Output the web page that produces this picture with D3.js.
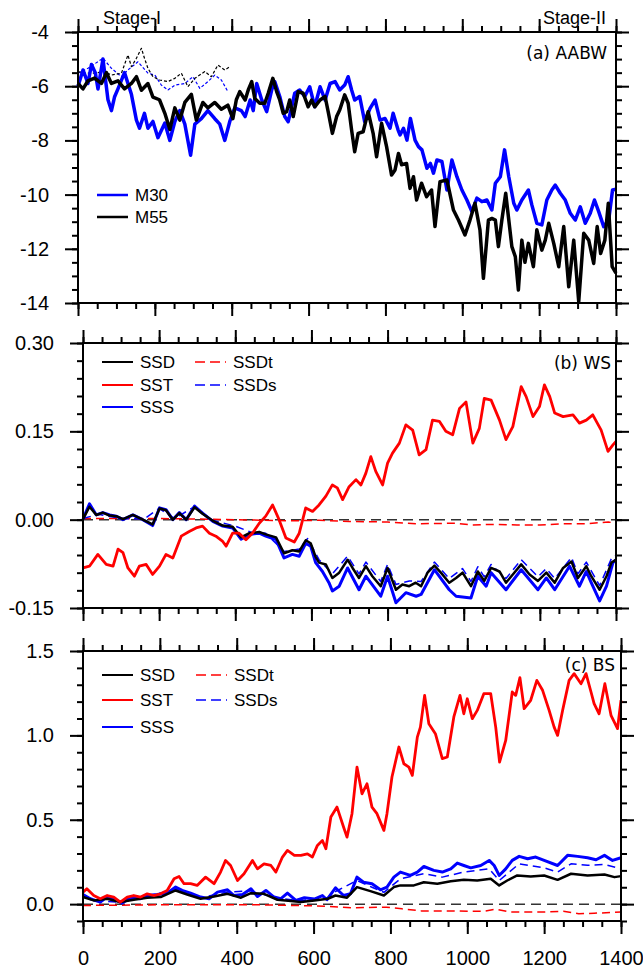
<!DOCTYPE html>
<html>
<head>
<meta charset="utf-8">
<script src="https://cdn.jsdelivr.net/npm/d3@7"></script>
<style>
body { margin: 0; background: #fff; }
</style>
</head>
<body>
<div id="chart"></div>
<script>
const width = 643
const height = 970

/* x axis: model years */
const xMajor = [0, 200, 400, 600, 800, 1000, 1200, 1400]
const xMinor = d3.range(0, 1401, 50)

/* y tick labels per panel */
const yMajorA = [-14, -12, -10, -8, -6, -4]
const yMajorB = [-0.15, 0, 0.15, 0.30]
const yMajorC = [0, 0.5, 1.0, 1.5]

/* (a) AABW, [year, value] */
const m30 = [[0,-6.0],[13,-5.4],[26,-5.9],[35,-5.2],[45,-5.5],[52,-6.1],[65,-5.0],[78,-6.5],[87,-6.9],[95,-6.4],[104,-6.1],[121,-5.5],[139,-6.3],[152,-7.25],[160,-7.55],[173,-7.0],[182,-7.55],[195,-7.3],[208,-7.9],[226,-7.36],[239,-8.0],[252,-7.3],[265,-6.9],[278,-7.4],[293,-8.55],[304,-7.4],[321,-7.2],[338,-6.9],[356,-7.2],[369,-7.4],[382,-8.0],[395,-7.3],[408,-6.8],[425,-6.9],[435,-7.12],[448,-6.51],[456,-6.9],[465,-5.9],[478,-6.5],[491,-6.94],[504,-6.14],[512,-5.83],[525,-6.38],[538,-7.12],[547,-7.31],[556,-6.76],[564,-6.26],[577,-6.14],[590,-6.38],[603,-6.02],[616,-6.76],[630,-6.02],[643,-6.51],[656,-5.9],[669,-5.83],[681,-6.14],[694,-5.96],[703,-5.65],[712,-6.14],[720,-6.51],[733,-6.38],[746,-7.31],[760,-6.82],[773,-6.51],[786,-7.25],[799,-7.19],[812,-7.55],[820,-7.0],[833,-7.62],[838,-7.8],[847,-7.55],[856,-7.99],[865,-7.19],[877,-7.99],[886,-8.23],[895,-8.35],[908,-9.03],[917,-8.85],[925,-9.21],[934,-8.72],[947,-8.78],[960,-9.83],[973,-8.72],[986,-9.34],[999,-9.83],[1012,-10.2],[1025,-10.63],[1038,-10.13],[1051,-10.26],[1064,-10.2],[1077,-10.57],[1086,-9.58],[1099,-9.34],[1110,-8.35],[1121,-9.34],[1134,-10.32],[1142,-10.57],[1155,-10.2],[1172,-9.83],[1181,-10.38],[1194,-11.06],[1207,-11.12],[1220,-10.2],[1233,-9.83],[1242,-9.65],[1255,-9.95],[1268,-10.2],[1281,-10.69],[1294,-10.94],[1307,-10.45],[1320,-11.06],[1333,-10.69],[1344,-10.2],[1355,-10.63],[1368,-11.18],[1381,-10.94],[1391,-9.83],[1400,-9.8]]
const m55 = [[0,-5.9],[13,-6.1],[26,-5.8],[43,-5.7],[61,-5.9],[74,-5.5],[87,-5.9],[104,-5.8],[121,-6.1],[139,-5.9],[152,-5.65],[165,-6.15],[182,-5.9],[195,-6.4],[212,-6.5],[226,-7.0],[239,-7.6],[252,-6.8],[265,-7.25],[278,-6.6],[295,-6.3],[308,-7.25],[325,-6.6],[338,-6.8],[356,-6.6],[373,-6.85],[390,-6.7],[403,-7.2],[412,-6.5],[421,-6.2],[435,-6.51],[443,-6.14],[452,-5.83],[460,-6.45],[473,-6.63],[486,-6.63],[495,-6.26],[507,-5.71],[517,-6.2],[525,-6.51],[534,-7.0],[543,-6.94],[551,-6.51],[560,-7.12],[573,-6.2],[586,-6.26],[599,-6.76],[608,-6.51],[616,-6.76],[630,-6.51],[643,-6.38],[651,-6.94],[662,-7.74],[673,-7.12],[681,-6.88],[694,-6.32],[703,-6.63],[712,-7.62],[720,-8.42],[729,-7.74],[742,-7.68],[755,-6.94],[768,-7.74],[777,-8.6],[790,-7.37],[803,-8.23],[816,-9.28],[825,-9.09],[834,-8.48],[842,-8.9],[855,-8.85],[864,-9.77],[873,-9.34],[881,-10.2],[894,-9.58],[907,-10.08],[920,-9.83],[929,-11.18],[942,-9.52],[960,-9.46],[977,-10.57],[990,-10.94],[1007,-11.49],[1020,-10.94],[1033,-10.32],[1046,-11.3],[1055,-13.09],[1068,-10.94],[1077,-10.88],[1086,-10.94],[1094,-11.92],[1103,-10.94],[1113,-9.95],[1121,-10.94],[1129,-11.92],[1138,-12.29],[1146,-13.52],[1155,-11.68],[1163,-12.5],[1172,-11.8],[1185,-12.66],[1194,-11.3],[1207,-12.05],[1216,-11.68],[1225,-11.06],[1238,-11.8],[1251,-12.66],[1264,-11.18],[1277,-13.4],[1290,-11.68],[1303,-13.95],[1316,-11.43],[1329,-11.68],[1342,-12.54],[1351,-11.18],[1360,-12.17],[1371,-11.68],[1380,-10.32],[1390,-12.66],[1400,-12.9]]
const m30Early = [[0,-5.52],[26,-5.34],[65,-4.97],[87,-5.34],[113,-5.65],[130,-5.4],[156,-5.1],[182,-5.52],[200,-5.59],[217,-5.96],[234,-6.14],[252,-5.96],[278,-5.9],[299,-5.65],[317,-6.08],[338,-5.83],[356,-5.59],[373,-5.77],[390,-6.2]]
const m55Early = [[0,-5.46],[17,-5.52],[43,-5.52],[69,-5.46],[87,-5.59],[113,-5.52],[130,-4.85],[139,-5.28],[152,-4.97],[165,-4.6],[173,-4.97],[182,-5.34],[195,-5.65],[212,-5.77],[234,-5.83],[252,-5.71],[269,-5.52],[286,-6.02],[304,-5.71],[330,-5.46],[347,-5.65],[364,-5.22],[382,-5.4],[395,-5.28]]

/* (b) WS */
const wsSSD = [[0,0.001],[17,0.022],[35,0.008],[52,0.012],[70,0.007],[87,0.006],[105,0.001],[131,0.008],[157,0.0],[183,-0.008],[201,0.019],[218,0.016],[236,0.0],[253,0.011],[271,0.0],[293,0.021],[314,0.010],[341,-0.002],[367,-0.010],[393,-0.012],[415,-0.030],[437,-0.023],[463,-0.021],[480,-0.025],[507,-0.030],[528,-0.057],[550,-0.052],[568,-0.054],[585,-0.035],[598,-0.040],[611,-0.063],[620,-0.073],[638,-0.076],[655,-0.099],[673,-0.090],[695,-0.068],[708,-0.082],[725,-0.099],[743,-0.079],[760,-0.096],[782,-0.113],[800,-0.082],[822,-0.119],[839,-0.110],[857,-0.113],[874,-0.107],[888,-0.113],[905,-0.090],[923,-0.078],[940,-0.090],[962,-0.107],[980,-0.099],[997,-0.090],[1019,-0.113],[1037,-0.088],[1054,-0.104],[1072,-0.082],[1094,-0.088],[1111,-0.107],[1129,-0.093],[1151,-0.076],[1173,-0.093],[1195,-0.104],[1217,-0.090],[1239,-0.107],[1261,-0.082],[1283,-0.071],[1300,-0.099],[1322,-0.079],[1335,-0.096],[1357,-0.119],[1375,-0.096],[1388,-0.073],[1400,-0.068]]
const wsSST = [[0,-0.082],[17,-0.079],[39,-0.059],[61,-0.076],[79,-0.079],[92,-0.050],[105,-0.056],[118,-0.082],[135,-0.096],[148,-0.079],[166,-0.076],[183,-0.093],[201,-0.079],[218,-0.059],[236,-0.065],[258,-0.028],[279,-0.020],[297,-0.014],[314,-0.011],[332,-0.023],[349,-0.028],[367,-0.037],[376,-0.045],[393,-0.023],[410,-0.023],[428,-0.034],[445,-0.023],[463,-0.006],[480,0.006],[498,0.025],[515,0.0],[533,-0.031],[555,-0.038],[568,-0.023],[585,0.020],[603,0.014],[620,0.025],[638,0.040],[655,0.059],[668,0.054],[682,0.034],[699,0.056],[717,0.068],[730,0.059],[743,0.079],[756,0.107],[769,0.082],[787,0.059],[800,0.096],[813,0.113],[831,0.130],[848,0.161],[866,0.152],[883,0.110],[901,0.119],[918,0.169],[936,0.167],[953,0.150],[971,0.144],[989,0.189],[1006,0.200],[1024,0.130],[1041,0.155],[1054,0.206],[1072,0.203],[1094,0.169],[1111,0.136],[1129,0.158],[1151,0.226],[1164,0.209],[1182,0.175],[1199,0.192],[1212,0.229],[1226,0.209],[1239,0.181],[1261,0.175],[1287,0.178],[1304,0.164],[1322,0.169],[1339,0.178],[1361,0.152],[1379,0.116],[1392,0.127],[1400,0.133]]
const wsSSS = [[0,0.001],[17,0.027],[35,0.008],[52,0.012],[70,0.008],[87,0.006],[105,0.0],[131,0.008],[157,0.0],[183,-0.010],[201,0.020],[218,0.017],[236,0.0],[253,0.012],[271,0.0],[293,0.023],[314,0.011],[341,-0.003],[367,-0.011],[393,-0.014],[415,-0.033],[437,-0.025],[463,-0.023],[480,-0.028],[507,-0.034],[528,-0.065],[550,-0.059],[568,-0.062],[585,-0.040],[598,-0.045],[611,-0.073],[629,-0.088],[646,-0.107],[655,-0.121],[673,-0.113],[695,-0.082],[725,-0.119],[743,-0.096],[782,-0.130],[800,-0.096],[822,-0.141],[848,-0.124],[875,-0.130],[888,-0.127],[923,-0.085],[962,-0.119],[980,-0.130],[1019,-0.133],[1037,-0.096],[1059,-0.113],[1072,-0.090],[1111,-0.119],[1151,-0.085],[1195,-0.119],[1217,-0.099],[1239,-0.119],[1278,-0.079],[1304,-0.113],[1322,-0.088],[1335,-0.107],[1357,-0.138],[1375,-0.113],[1392,-0.073],[1400,-0.068]]
const wsSSDt = [[0,0.002],[200,0.002],[400,0.0],[550,-0.002],[620,-0.001],[700,-0.003],[800,-0.004],[880,-0.007],[980,-0.006],[1020,-0.009],[1080,-0.008],[1140,-0.009],[1200,-0.009],[1260,-0.007],[1320,-0.007],[1380,-0.004],[1400,-0.006]]
const wsSSDs = [[0,0.002],[40,0.009],[100,0.002],[160,0.001],[200,0.019],[240,0.002],[293,0.022],[340,-0.001],[400,-0.011],[440,-0.021],[480,-0.023],[528,-0.054],[568,-0.050],[590,-0.032],[620,-0.068],[655,-0.092],[695,-0.062],[725,-0.092],[743,-0.072],[782,-0.105],[800,-0.076],[822,-0.110],[857,-0.104],[888,-0.105],[923,-0.072],[962,-0.100],[997,-0.083],[1019,-0.105],[1037,-0.080],[1054,-0.097],[1072,-0.076],[1111,-0.100],[1151,-0.068],[1195,-0.097],[1217,-0.083],[1239,-0.100],[1283,-0.064],[1300,-0.092],[1322,-0.072],[1357,-0.112],[1388,-0.066],[1400,-0.060]]

/* (c) BS */
const bsSSD = [[0,0.042],[28,0.022],[63,0.032],[97,0.012],[132,0.026],[167,0.038],[202,0.042],[241,0.081],[271,0.057],[306,0.032],[341,0.045],[376,0.061],[411,0.038],[437,0.065],[471,0.061],[506,0.026],[541,0.018],[567,0.012],[602,0.022],[637,0.032],[657,0.051],[687,0.038],[713,0.101],[748,0.077],[783,0.051],[809,0.101],[826,0.111],[861,0.111],[887,0.130],[922,0.121],[957,0.136],[991,0.144],[1026,0.140],[1061,0.150],[1083,0.111],[1104,0.140],[1130,0.170],[1165,0.164],[1200,0.170],[1235,0.144],[1270,0.180],[1313,0.170],[1357,0.176],[1383,0.160],[1400,0.166]]
const bsSST = [[0,0.071],[10,0.091],[28,0.051],[45,0.032],[63,0.051],[80,0.042],[97,0.012],[115,0.042],[132,0.051],[150,0.042],[167,0.061],[184,0.051],[202,0.061],[219,0.081],[237,0.150],[250,0.164],[263,0.121],[280,0.121],[297,0.111],[319,0.160],[341,0.121],[358,0.190],[371,0.259],[384,0.229],[402,0.140],[419,0.180],[441,0.259],[454,0.209],[471,0.239],[489,0.229],[502,0.190],[519,0.279],[532,0.318],[550,0.289],[567,0.289],[584,0.298],[597,0.279],[610,0.348],[623,0.377],[632,0.328],[645,0.516],[661,0.575],[678,0.457],[687,0.397],[700,0.536],[713,0.812],[726,0.654],[739,0.713],[752,0.575],[765,0.536],[783,0.437],[791,0.536],[804,0.753],[822,0.931],[835,0.832],[848,0.812],[857,0.763],[870,0.990],[878,1.049],[889,1.237],[900,1.069],[917,1.010],[935,0.862],[948,0.872],[965,1.109],[981,1.237],[991,1.128],[1000,1.217],[1013,1.099],[1026,1.148],[1043,1.247],[1061,1.247],[1074,1.049],[1084,0.842],[1100,0.970],[1117,1.257],[1126,1.237],[1137,1.342],[1148,1.158],[1165,1.208],[1181,1.326],[1196,1.267],[1213,1.148],[1226,1.049],[1235,1.0],[1248,1.148],[1265,1.326],[1278,1.366],[1296,1.306],[1309,1.366],[1322,1.257],[1330,1.188],[1343,1.128],[1358,1.306],[1374,1.119],[1391,1.040],[1400,1.208]]
const bsSSS = [[0,0.057],[19,0.032],[45,0.012],[63,0.045],[84,0.026],[102,0.006],[123,0.038],[150,0.032],[167,0.051],[193,0.057],[219,0.065],[241,0.101],[258,0.081],[280,0.065],[306,0.042],[328,0.032],[350,0.071],[376,0.085],[393,0.051],[415,0.057],[437,0.091],[454,0.045],[476,0.081],[497,0.042],[515,0.032],[532,0.065],[554,0.022],[576,0.038],[602,0.030],[623,0.051],[635,0.026],[657,0.097],[678,0.051],[696,0.061],[713,0.160],[730,0.130],[752,0.121],[774,0.085],[791,0.101],[809,0.160],[826,0.190],[852,0.170],[870,0.190],[887,0.223],[913,0.200],[935,0.190],[957,0.209],[974,0.243],[991,0.229],[1009,0.215],[1035,0.229],[1057,0.259],[1070,0.229],[1083,0.170],[1100,0.209],[1117,0.259],[1135,0.283],[1157,0.269],[1178,0.279],[1200,0.259],[1235,0.229],[1261,0.289],[1287,0.283],[1313,0.275],[1335,0.263],[1357,0.289],[1378,0.259],[1400,0.275]]
const bsSSDt = [[0,-0.008],[200,-0.004],[450,-0.004],[600,-0.010],[640,-0.014],[700,-0.022],[790,-0.018],[830,-0.028],[880,-0.040],[960,-0.040],[1040,-0.043],[1075,-0.030],[1110,-0.046],[1200,-0.047],[1250,-0.042],[1290,-0.057],[1330,-0.054],[1400,-0.047]]
const bsSSDs = [[0,0.050],[40,0.020],[100,0.010],[167,0.045],[241,0.090],[306,0.037],[376,0.072],[437,0.078],[506,0.035],[567,0.020],[637,0.040],[657,0.075],[713,0.140],[752,0.100],[783,0.070],[826,0.150],[887,0.180],[935,0.160],[991,0.190],[1057,0.209],[1083,0.140],[1135,0.239],[1200,0.215],[1235,0.190],[1270,0.239],[1313,0.230],[1357,0.235],[1400,0.209]]

const BLUE = '#0000ff'
const RED = '#ff0000'
const tickFont = 'Liberation Sans, Arial, Helvetica, sans-serif'
const titleFont = 'DejaVu Sans, sans-serif'

const panels = [
    {
        left: 78, right: 616, top: 32, bottom: 303,
        domain: [-14, -4], major: yMajorA, minor: d3.range(-14, -3.9, 0.5),
        fmt: d => String(d), title: '(a) AABW', titleX: 607, titleY: 53,
        series: [
            { data: m30Early, color: BLUE, w: 1.2, dash: '3,2' },
            { data: m55Early, color: '#000', w: 1.2, dash: '3,2' },
            { data: m30, color: BLUE, w: 3.5 },
            { data: m55, color: '#000', w: 3.5 },
        ],
        legend: [
            { label: 'M30', color: BLUE, w: 2.5, x: 97, y: 195 },
            { label: 'M55', color: '#000', w: 2.5, x: 97, y: 217 },
        ],
    },
    {
        left: 83, right: 616, top: 343, bottom: 608,
        domain: [-0.15, 0.30], major: yMajorB, minor: d3.range(-0.15, 0.301, 0.03),
        fmt: d => d.toFixed(2), title: '(b) WS', titleX: 611, titleY: 363, zero: true,
        series: [
            { data: wsSSDt, color: RED, w: 1.5, dash: '8,5' },
            { data: wsSSS, color: BLUE, w: 3 },
            { data: wsSSDs, color: BLUE, w: 1.5, dash: '8,5' },
            { data: wsSSD, color: '#000', w: 2.5 },
            { data: wsSST, color: RED, w: 2.8 },
        ],
        legend: [
            { label: 'SSD', color: '#000', w: 2, x: 102, y: 362 },
            { label: 'SST', color: RED, w: 2, x: 102, y: 385 },
            { label: 'SSS', color: BLUE, w: 2, x: 102, y: 407 },
            { label: 'SSDt', color: RED, w: 1.5, dash: '10,5', x: 195, y: 362 },
            { label: 'SSDs', color: BLUE, w: 1.5, dash: '10,5', x: 195, y: 385 },
        ],
    },
    {
        left: 83, right: 621, top: 651, bottom: 921,
        domain: [-0.1, 1.5], major: yMajorC, minor: d3.range(-0.1, 1.501, 0.1),
        fmt: d => d.toFixed(1), title: '(c) BS', titleX: 615, titleY: 665, zero: true, xLabels: true,
        series: [
            { data: bsSSDt, color: RED, w: 1.5, dash: '8,5' },
            { data: bsSSS, color: BLUE, w: 3 },
            { data: bsSSDs, color: BLUE, w: 1.5, dash: '8,5' },
            { data: bsSSD, color: '#000', w: 2.5 },
            { data: bsSST, color: RED, w: 2.8 },
        ],
        legend: [
            { label: 'SSD', color: '#000', w: 2, x: 102, y: 675 },
            { label: 'SST', color: RED, w: 2, x: 102, y: 700 },
            { label: 'SSS', color: BLUE, w: 2, x: 102, y: 727 },
            { label: 'SSDt', color: RED, w: 1.5, dash: '10,5', x: 196, y: 675 },
            { label: 'SSDs', color: BLUE, w: 1.5, dash: '10,5', x: 196, y: 700 },
        ],
    },
]

const svg = d3.select('#chart').append('svg').attr('width', width).attr('height', height)

panels.forEach(drawPanel)

/* stage labels above panel (a) */
svg.append('text').text('Stage-I').attr('x', 103).attr('y', 24)
    .attr('font-family', tickFont).attr('font-size', 18)
svg.append('text').text('Stage-II').attr('x', 606).attr('y', 24).attr('text-anchor', 'end')
    .attr('font-family', tickFont).attr('font-size', 18)

function styleAxis(g) {
    g.select('.domain').remove()
    g.selectAll('line').attr('stroke', '#000').attr('stroke-width', 2)
    g.attr('font-family', tickFont).attr('font-size', 20)
    g.selectAll('text').attr('fill', '#000')
}

function drawPanel(p) {
    const x = d3.scaleLinear().domain([0, 1400]).range([p.left, p.right])
    const y = d3.scaleLinear().domain(p.domain).range([p.bottom, p.top])
    const g = svg.append('g')
    const none = () => ''

    /* minor ticks, all four sides, outward */
    g.append('g').attr('transform', `translate(${p.left},0)`)
        .call(d3.axisLeft(y).tickValues(p.minor).tickSize(6).tickFormat(none)).call(styleAxis)
    g.append('g').attr('transform', `translate(${p.right},0)`)
        .call(d3.axisRight(y).tickValues(p.minor).tickSize(6).tickFormat(none)).call(styleAxis)
    g.append('g').attr('transform', `translate(0,${p.top})`)
        .call(d3.axisTop(x).tickValues(xMinor).tickSize(6).tickFormat(none)).call(styleAxis)
    g.append('g').attr('transform', `translate(0,${p.bottom})`)
        .call(d3.axisBottom(x).tickValues(xMinor).tickSize(6).tickFormat(none)).call(styleAxis)

    /* major ticks */
    g.append('g').attr('transform', `translate(${p.left},0)`)
        .call(d3.axisLeft(y).tickValues(p.major).tickSize(13).tickPadding(16).tickFormat(p.fmt)).call(styleAxis)
    g.append('g').attr('transform', `translate(${p.right},0)`)
        .call(d3.axisRight(y).tickValues(p.major).tickSize(13).tickFormat(none)).call(styleAxis)
    g.append('g').attr('transform', `translate(0,${p.top})`)
        .call(d3.axisTop(x).tickValues(xMajor).tickSize(13).tickFormat(none)).call(styleAxis)
    g.append('g').attr('transform', `translate(0,${p.bottom})`)
        .call(d3.axisBottom(x).tickValues(xMajor).tickSize(13).tickPadding(17)
            .tickFormat(p.xLabels ? d => String(d) : none)).call(styleAxis)

    if (p.zero) {
        g.append('line')
            .attr('x1', p.left).attr('x2', p.right).attr('y1', y(0)).attr('y2', y(0))
            .attr('stroke', '#333').attr('stroke-width', 1.5).attr('stroke-dasharray', '10,6')
    }

    const line = d3.line().x(d => x(d[0])).y(d => y(d[1]))
    g.selectAll('path.series')
        .data(p.series)
        .join('path')
        .attr('class', 'series')
        .attr('d', d => line(d.data))
        .attr('fill', 'none')
        .attr('stroke', d => d.color)
        .attr('stroke-width', d => d.w)
        .attr('stroke-dasharray', d => d.dash || null)
        .attr('stroke-linejoin', 'round')

    /* frame */
    g.append('rect')
        .attr('x', p.left).attr('y', p.top)
        .attr('width', p.right - p.left).attr('height', p.bottom - p.top)
        .attr('fill', 'none').attr('stroke', '#000').attr('stroke-width', 2)

    /* legend */
    const items = g.selectAll('g.legend')
        .data(p.legend)
        .join('g')
        .attr('class', 'legend')
        .attr('transform', d => `translate(${[d.x, d.y]})`)
    items.append('line')
        .attr('x1', 0).attr('x2', 31)
        .attr('stroke', d => d.color)
        .attr('stroke-width', d => d.w)
        .attr('stroke-dasharray', d => d.dash || null)
    items.append('text')
        .text(d => d.label)
        .attr('x', 38).attr('dy', '0.36em')
        .attr('font-family', tickFont).attr('font-size', 17)

    g.append('text').text(p.title)
        .attr('x', p.titleX).attr('y', p.titleY).attr('dy', '0.36em')
        .attr('text-anchor', 'end')
        .attr('font-family', titleFont).attr('font-size', 17)
}
</script>
</body>
</html>
